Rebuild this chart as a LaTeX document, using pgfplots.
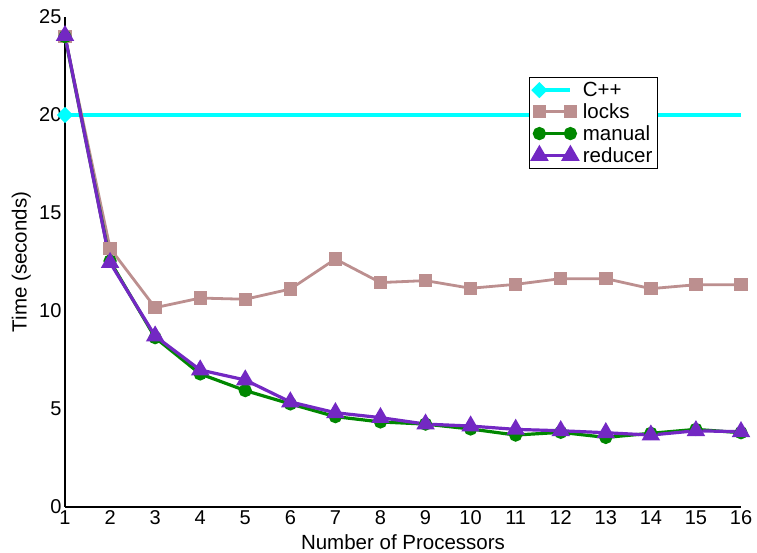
\documentclass[border=0pt]{standalone}
\usepackage{fontspec}
\setmainfont{Liberation Sans}
\usepackage{pgfplots}
\pgfplotsset{compat=1.18}
\definecolor{cppc}{RGB}{0,255,255}
\definecolor{lockc}{RGB}{188,143,143}
\definecolor{manc}{RGB}{0,135,0}
\definecolor{redc}{RGB}{115,40,195}
\pgfplotsset{
  twoend/.style={legend image code/.code={
    \draw[##1] plot coordinates {(0pt,0pt) (31pt,0pt)};}}
}
\begin{document}
\begin{tikzpicture}
\begin{axis}[
  scale only axis,
  width=676pt, height=490pt,
  xmin=1, xmax=16, ymin=0, ymax=25,
  xtick={1,...,16}, ytick={0,5,...,25},
  axis x line*=bottom, axis y line*=left,
  axis line style={line width=1.4pt, -},
  major tick length=0pt,
  /pgf/number format/assume math mode=true,
  tick label style={font=\fontsize{20}{22}\selectfont},
  label style={font=\fontsize{20.5}{22}\selectfont},
  xlabel={Number of Processors},
  ylabel={Time (seconds)},
  xlabel style={at={(axis description cs:0.5,-0.0551)}, anchor=north, inner sep=0pt},
  ylabel style={at={(axis description cs:-0.0503,0.5)}, anchor=south, inner sep=0pt},
  legend style={at={(0.877,0.878)}, anchor=north east, draw=black, line width=0.9pt,
    font=\fontsize{20.5}{22}\selectfont, row sep=1.5pt, inner xsep=3pt, inner ysep=3pt,
    /tikz/every odd column/.append style={column sep=4pt}},
  legend cell align=left,
  clip=false,
]
\addplot[cppc, line width=3.4pt, mark=square*, mark options={rotate=45}, mark size=4pt, mark indices={1}, twoend] coordinates {(1,20) (16,20)};
\addlegendentry{C++}
\addplot[lockc, line width=2.8pt, mark=square*, mark size=5.3pt, twoend] coordinates {
(1,24.0) (2,13.2) (3,10.17) (4,10.66) (5,10.6) (6,11.12) (7,12.65) (8,11.45)
(9,11.55) (10,11.16) (11,11.36) (12,11.65) (13,11.65) (14,11.14) (15,11.34) (16,11.34)};
\addlegendentry{locks}
\addplot[manc, line width=3.2pt, mark=*, mark size=5pt, twoend] coordinates {
(1,24.0) (2,12.55) (3,8.64) (4,6.79) (5,5.94) (6,5.26) (7,4.61) (8,4.34)
(9,4.23) (10,3.98) (11,3.67) (12,3.81) (13,3.55) (14,3.76) (15,3.96) (16,3.79)};
\addlegendentry{manual}
\addplot[redc, line width=3.2pt, mark=triangle*, mark size=7.5pt, twoend] coordinates {
(1,24.05) (2,12.47) (3,8.72) (4,6.99) (5,6.48) (6,5.36) (7,4.81) (8,4.56)
(9,4.23) (10,4.13) (11,3.96) (12,3.89) (13,3.79) (14,3.67) (15,3.89) (16,3.84)};
\addlegendentry{reducer}
\end{axis}
\pgfresetboundingbox
\path ([shift={(-65pt,-46pt)}]current axis.south west) rectangle ([shift={(16pt,17pt)}]current axis.north east);
\end{tikzpicture}
\end{document}
